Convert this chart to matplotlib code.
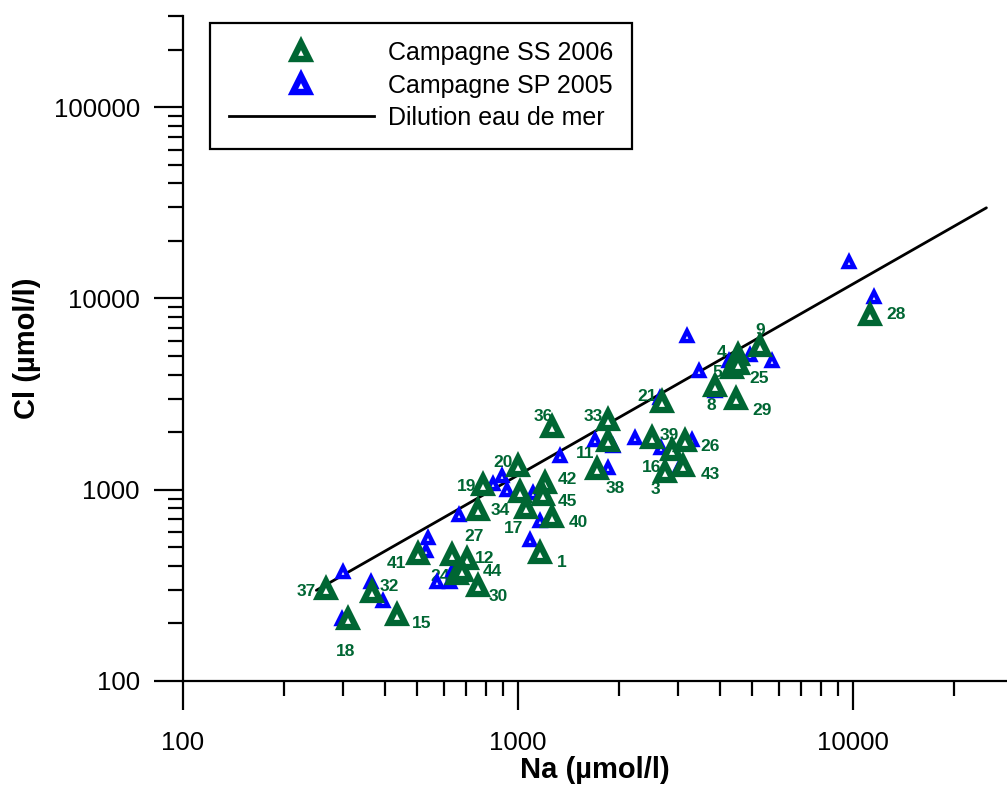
import matplotlib
matplotlib.use("Agg")
import matplotlib.pyplot as plt
from matplotlib.lines import Line2D
from matplotlib.ticker import LogLocator, NullFormatter, FixedLocator, FixedFormatter

plt.rcParams['font.family'] = ['Liberation Sans', 'DejaVu Sans']

GREEN = '#006633'
BLUE = '#0000ff'

# Campagne SS 2006 : sample number, Na and Cl (µmol/l)
ss_ids = ['1', '3', '4', '5', '8', '9', '11', '12', '15', '16', '17', '18',
          '19', '20', '21', '24', '25', '26', '27', '28', '29', '30', '32',
          '33', '34', '36', '37', '38', '39', '40', '41', '42', '43', '44',
          '45', '']
ss_na = [1159, 2748, 4549, 4355, 3872, 5272, 1862, 703, 434, 2877, 1057, 311,
         788, 1002, 2685, 658, 4540, 3155, 634, 11200, 4478, 760, 366,
         1862, 761, 1260, 268, 1718, 2506, 1260, 504, 1205, 3113, 680,
         1186, 1014]
ss_cl = [467, 1233, 5093, 4355, 3474, 5623, 1791, 433, 222, 1618, 802, 210,
         1062, 1336, 2864, 363, 4571, 1791, 457, 8240, 2985, 312, 291,
         2306, 780, 2128, 303, 1283, 1866, 720, 460, 1091, 1324, 377,
         942, 968]

# Campagne SP 2005 : Na and Cl (µmol/l)
sp_na = [301, 363, 394, 298, 540, 533, 668, 641, 571, 627, 844, 893, 929,
         1111, 1159, 1086, 1334, 1698, 1923, 2234, 1862, 2655, 2680, 3300,
         3048, 3190, 3478, 4931, 5715, 4248, 3872, 9750, 11510]
sp_cl = [373, 331, 263, 210, 558, 481, 740, 381, 331, 331, 1074, 1183, 1000,
         962, 689, 547, 1507, 1828, 1687, 1866, 1300, 3020, 1650, 1828,
         1324, 6397, 4158, 5035, 4700, 4700, 3273, 15490, 10210]

# Seawater dilution line
dil_na = [250, 25000]
dil_cl = [298, 29800]

# Axis ticks
major_ticks = [100, 1000, 10000]
y_major_ticks = [100, 1000, 10000, 100000]

# Placement of each sample number relative to its marker (pixels, y up)
label_offsets = {
    '1': (22, -10), '3': (-10, -17), '4': (-17, 2), '5': (-15, -5),
    '8': (-4, -19), '9': (0, 16), '11': (-23, -12), '12': (18, 1),
    '15': (25, -9), '16': (-20, -18), '17': (-13, -20), '18': (-3, -32),
    '19': (-17, -2), '20': (-15, 3), '21': (-15, 6), '24': (-17, -3),
    '25': (21, -15), '26': (25, -5), '27': (22, 18), '28': (26, 0),
    '29': (26, -12), '30': (20, -10), '32': (18, 6), '33': (-15, 4),
    '34': (22, 0), '36': (-8, 11), '37': (-20, -3), '38': (18, -19),
    '39': (18, 2), '40': (27, -5), '41': (-22, -9), '42': (22, 3),
    '43': (27, -8), '44': (30, -1), '45': (25, -7),
}

fig = plt.figure(figsize=(10.07, 7.87), dpi=100)
ax = fig.add_axes([183 / 1007, 1 - 681 / 787, 1 - 183 / 1007, (681 - 16) / 787])

ax.set_xscale('log')
ax.set_yscale('log')
ax.set_xlim(100, 28800)
ax.set_ylim(100, 300000)

ax.plot(dil_na, dil_cl, color='black', lw=2.0, zorder=1, solid_capstyle='round')

for sid, na, cl in zip(ss_ids, ss_na, ss_cl):
    if sid:
        dx, dy = label_offsets[sid]
        ax.annotate(sid, (na, cl), xytext=(dx, dy), textcoords='offset pixels',
                    ha='center', va='center', fontsize=12.5, fontweight='bold',
                    color=GREEN, zorder=2)

ax.plot(sp_na, sp_cl, linestyle='none', marker='^', markersize=7.2,
        markerfacecolor='white', markeredgecolor=BLUE, markeredgewidth=3.2,
        zorder=3)
ax.plot(ss_na, ss_cl, linestyle='none', marker='^', markersize=11.5,
        markerfacecolor='white', markeredgecolor=GREEN, markeredgewidth=4.5,
        zorder=4)

for side in ('top', 'right'):
    ax.spines[side].set_visible(False)
for side in ('left', 'bottom'):
    ax.spines[side].set_linewidth(1.6)

ax.xaxis.set_major_locator(FixedLocator(major_ticks))
ax.xaxis.set_major_formatter(FixedFormatter([str(t) for t in major_ticks]))
ax.yaxis.set_major_locator(FixedLocator(y_major_ticks))
ax.yaxis.set_major_formatter(FixedFormatter([str(t) for t in y_major_ticks]))
for axis in (ax.xaxis, ax.yaxis):
    axis.set_minor_locator(LogLocator(base=10, subs=range(2, 10), numticks=20))
    axis.set_minor_formatter(NullFormatter())

ax.tick_params(which='major', direction='out', length=21, width=1.6,
               labelsize=18.5)
ax.tick_params(which='minor', direction='out', length=10.5, width=1.6)
ax.tick_params(axis='x', which='major', pad=15)
ax.tick_params(axis='y', which='major', pad=10)

ax.set_xlabel('Na (µmol/l)', fontsize=21, fontweight='bold', labelpad=1)
ax.set_ylabel('Cl (µmol/l)', fontsize=21, fontweight='bold', labelpad=9)

handles = [
    Line2D([], [], linestyle='none', marker='^', markersize=12,
           markerfacecolor='white', markeredgecolor=GREEN, markeredgewidth=4.6),
    Line2D([], [], linestyle='none', marker='^', markersize=12,
           markerfacecolor='white', markeredgecolor=BLUE, markeredgewidth=4.6),
    Line2D([], [], color='black', lw=2.0),
]
labels = ['Campagne SS 2006', 'Campagne SP 2005', 'Dilution eau de mer']
leg = ax.legend(handles, labels, loc='upper left',
                bbox_to_anchor=(210 / 1007, 1 - 22.7 / 787),
                bbox_transform=fig.transFigure, borderaxespad=0,
                fontsize=18, handlelength=5.8, handletextpad=0.6,
                borderpad=0.74, labelspacing=0.34, numpoints=1,
                fancybox=False, framealpha=1, edgecolor='black')
leg.get_frame().set_linewidth(1.6)

fig.savefig('out.png', dpi=100)
